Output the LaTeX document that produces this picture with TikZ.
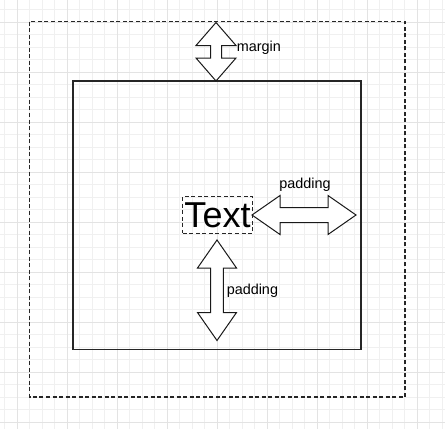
\documentclass[tikz,border=0pt]{standalone}
\usepackage{fontspec}
\setmainfont{Liberation Sans}

\tikzset{
    minorgrid/.style={draw=black!6, line width=0.75pt},
    majorgrid/.style={draw=black!11, line width=0.75pt},
    boxline/.style={draw=black!85, line width=0.9pt},
    dashline/.style={draw=black!85, line width=0.9pt, dash pattern=on 3pt off 1.9pt},
    blockarrow/.style={draw=black!90, fill=white, line width=0.75pt, line join=miter},
    lbl/.style={font=\fontsize{10.8}{12}\selectfont, inner sep=0pt}
}

% x, y top, y bottom, head length, head half width, shaft half width
\newcommand{\dblarrowV}[6]{%
    \draw[blockarrow] (#1,#2) -- ({#1+#5},{#2+#4}) -- ({#1+#6},{#2+#4})
        -- ({#1+#6},{#3-#4}) -- ({#1+#5},{#3-#4}) -- (#1,#3)
        -- ({#1-#5},{#3-#4}) -- ({#1-#6},{#3-#4}) -- ({#1-#6},{#2+#4})
        -- ({#1-#5},{#2+#4}) -- cycle;}
% y, x left, x right, head length, head half width, shaft half width
\newcommand{\dblarrowH}[6]{%
    \draw[blockarrow] (#2,#1) -- ({#2+#4},{#1-#5}) -- ({#2+#4},{#1-#6})
        -- ({#3-#4},{#1-#6}) -- ({#3-#4},{#1-#5}) -- (#3,#1)
        -- ({#3-#4},{#1+#5}) -- ({#3-#4},{#1+#6}) -- ({#2+#4},{#1+#6})
        -- ({#2+#4},{#1+#5}) -- cycle;}

\begin{document}
\begin{tikzpicture}[x=0.75pt, y=-0.75pt]
    \useasboundingbox (0,0) rectangle (445,429);
    % grid
    \foreach \gx in {4.5,17,...,442}
        \draw[minorgrid] (\gx,0) -- (\gx,429);
    \foreach \gy in {9.5,22,...,427}
        \draw[minorgrid] (0,\gy) -- (445,\gy);
    \foreach \gx in {17,67,...,417}
        \draw[majorgrid] (\gx,0) -- (\gx,429);
    \foreach \gy in {22,72,...,422}
        \draw[majorgrid] (0,\gy) -- (445,\gy);

    % margin box and content box
    \draw[dashline] (29.5,21.5) rectangle (405,397);
    \draw[boxline] (73,81) rectangle (361,349.5);

    \node[draw=black!85, dashline, inner sep=0pt, minimum width=52.2pt, minimum height=27.5pt,
        font=\fontsize{27}{30}\selectfont] (txt) at (217.5,215) {Text};

    \dblarrowV{216}{22.5}{81}{23}{20}{5.5}
    \dblarrowH{215}{252}{356}{28}{19.5}{7.5}
    \dblarrowV{217}{240}{340.5}{28}{19.5}{6.3}

    \node[lbl, anchor=west] (marginlbl) at (236.5,48) {margin};
    \node[lbl] (padright) at (305,185) {padding};
    \node[lbl, anchor=west] (padbelow) at (226.5,291) {padding};
\end{tikzpicture}
\end{document}
